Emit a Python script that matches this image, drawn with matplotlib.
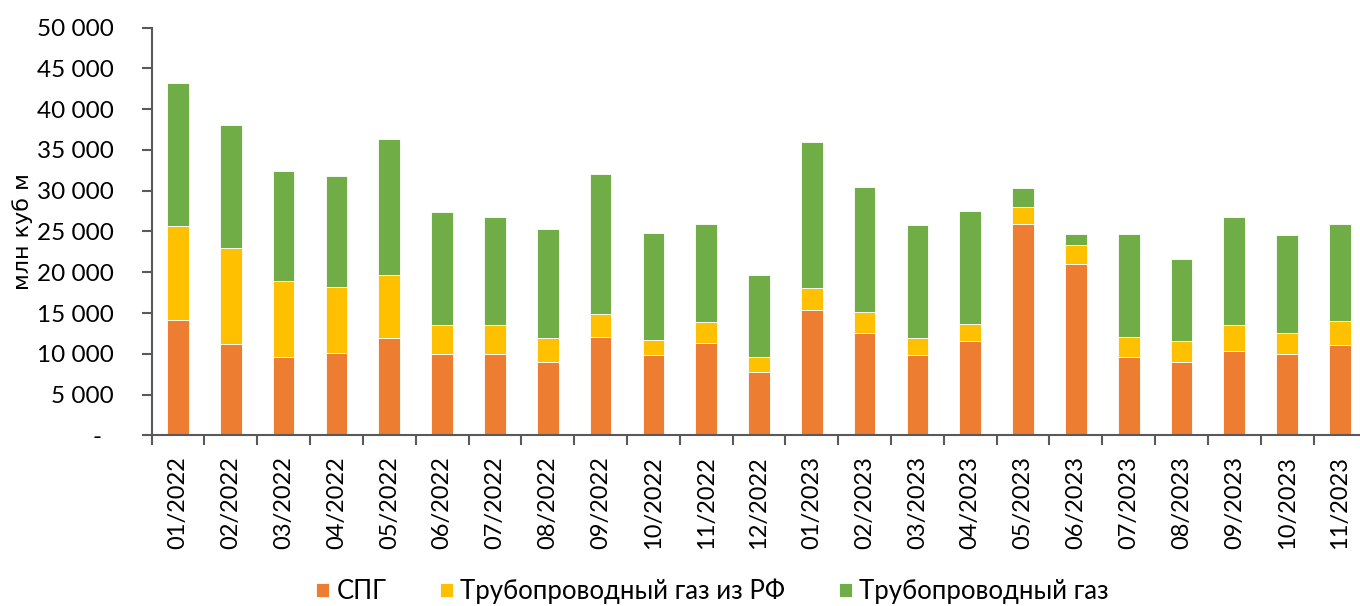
import matplotlib
matplotlib.use("Agg")
import matplotlib.pyplot as plt
from matplotlib.ticker import FuncFormatter, FixedLocator
import numpy as np

categories = ["01/2022", "02/2022", "03/2022", "04/2022", "05/2022", "06/2022",
              "07/2022", "08/2022", "09/2022", "10/2022", "11/2022", "12/2022",
              "01/2023", "02/2023", "03/2023", "04/2023", "05/2023", "06/2023",
              "07/2023", "08/2023", "09/2023", "10/2023", "11/2023"]
lng = [14200, 11240, 9600, 10060, 11970, 9940, 10010, 9030, 12020, 9810, 11360, 7800,
       15330, 12510, 9810, 11570, 25880, 21050, 9600, 9030, 10380, 10010, 11040]
pipe_ru = [11500, 11740, 9320, 8130, 7690, 3590, 3560, 2940, 2820, 1920, 2540, 1800,
           2700, 2580, 2120, 2050, 2090, 2330, 2420, 2540, 3110, 2580, 2980]
pipe = [17550, 15125, 13490, 13620, 16680, 13860, 13175, 13300, 17210, 13090, 12020, 10020,
        17980, 15370, 13830, 13900, 2400, 1310, 12640, 10100, 13250, 12020, 11940]
series_names = ["СПГ", "Трубопроводный газ из РФ", "Трубопроводный газ"]
colors = ["#ED7D31", "#FFC000", "#70AD47"]

plt.rcParams['font.family'] = ['Lato', 'DejaVu Sans']

fig = plt.figure(figsize=(13.6, 6.06), dpi=100)
ax = fig.add_axes([0.1115, 0.2817, 0.8885, 0.6726])

x = np.arange(len(categories))
lng_a = np.array(lng); ru_a = np.array(pipe_ru); p_a = np.array(pipe)
w = 0.41
ax.bar(x, lng_a, w, color=colors[0], edgecolor="white", linewidth=0.6, label=series_names[0])
ax.bar(x, ru_a, w, bottom=lng_a, color=colors[1], edgecolor="white", linewidth=0.6, label=series_names[1])
ax.bar(x, p_a, w, bottom=lng_a + ru_a, color=colors[2], edgecolor="white", linewidth=0.6, label=series_names[2])

ax.set_ylim(0, 50000)
ax.set_xlim(-0.5, 22.38)
ax.set_yticks(np.arange(0, 50001, 5000))

def fmt(v, pos):
    if v == 0:
        return "-  "
    return f"{int(v):,}".replace(",", " ")
ax.yaxis.set_major_formatter(FuncFormatter(fmt))

ax.xaxis.set_major_locator(FixedLocator(np.arange(-0.5, 23, 1.0)))
ax.xaxis.set_major_formatter(FuncFormatter(lambda v, p: ""))
ax.xaxis.set_minor_locator(FixedLocator(x))
ax.set_xticklabels(categories, minor=True, rotation=90, fontsize=17)
ax.tick_params(axis="x", which="minor", length=0, pad=15)
ax.tick_params(axis="x", which="major", length=7, width=1.5, color="#595959", direction="out")
ax.tick_params(axis="y", which="major", length=7, width=1.5, color="#595959", labelsize=17.5, pad=20)

for s in ["top", "right"]:
    ax.spines[s].set_visible(False)
for s in ["left", "bottom"]:
    ax.spines[s].set_color("#595959")
    ax.spines[s].set_linewidth(1.5)

ax.set_ylabel("млн куб м", fontsize=16, family=["DejaVu Sans"])
ax.yaxis.set_label_coords(-0.098, 0.5)

handles, labels = ax.get_legend_handles_labels()
fig.legend(handles, labels, loc="center", bbox_to_anchor=(0.524, 0.024), ncol=3,
           frameon=False, fontsize=18.5, handlelength=0.48, handleheight=0.48,
           handletextpad=0.3, columnspacing=2.1, borderpad=0)

fig.savefig("out.png", dpi=100)
